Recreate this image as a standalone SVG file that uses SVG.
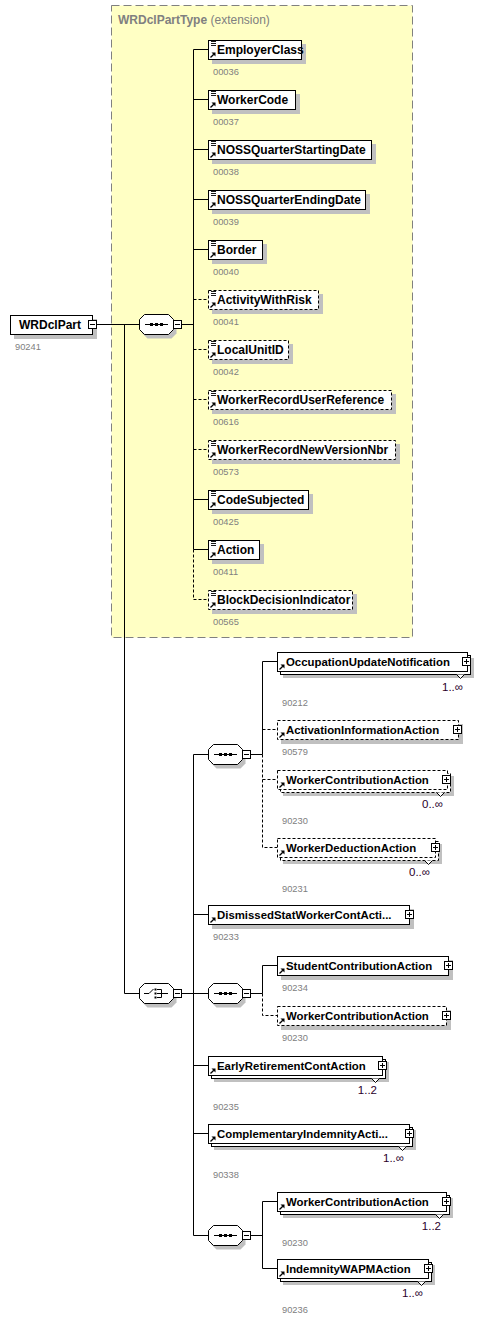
<svg xmlns="http://www.w3.org/2000/svg" xmlns:xlink="http://www.w3.org/1999/xlink" width="504" height="1327" viewBox="0 0 504 1327">
<style>
.box{fill:#fff;stroke:#000;stroke-width:1}
.opt{stroke-dasharray:3,2}
.sh{fill:#c0c0c0;stroke:none}
.name{font-family:"Liberation Sans",Arial,sans-serif;font-weight:bold;font-size:12px;fill:#000}
.sm{font-size:11.4px}
.id{font-family:"Liberation Sans",Arial,sans-serif;font-size:9.3px;fill:#808080}
.mult{font-family:"Liberation Sans",Arial,sans-serif;font-size:11.5px;fill:#2a002a}
.ttl{font-family:"Liberation Sans",Arial,sans-serif;font-size:12px;fill:#808080}
.ln{stroke:#000;stroke-width:1;fill:none}
.dl{stroke:#000;stroke-width:1;fill:none;stroke-dasharray:3,2}
</style>
<defs>
<g id="ico-s"><path d="M0,1.5h5M0,3.5h5M0,5.5h5" stroke="#000" stroke-width="0.9"/></g>
<g id="ico-r"><path d="M0.5,5.5L3.8,2.2" stroke="#000" stroke-width="1.3"/><path d="M1.5,0.5H5.5V4.5Z" fill="#000"/></g>
<g id="btn-m"><rect x="0.5" y="0.5" width="8" height="8" fill="#fff" stroke="#000"/><path d="M2,4.5h5" stroke="#000"/></g>
<g id="btn-p"><rect x="0.5" y="0.5" width="8" height="8" fill="#fff" stroke="#000"/><path d="M2,4.5h5M4.5,2v5" stroke="#000"/></g>
<path id="oct" d="M5.5,0.5H29.5L34.5,5.5V15.5L29.5,20.5H5.5L0.5,15.5V5.5Z"/>
<g id="seqc">
<use xlink:href="#oct" href="#oct" class="sh" transform="translate(3,4)"/>
<use xlink:href="#oct" href="#oct" class="box"/>
<path d="M6,10.5H29" stroke="#000"/>
<rect x="11" y="9" width="3" height="3"/><rect x="16" y="9" width="3" height="3"/><rect x="21" y="9" width="3" height="3"/>
<use xlink:href="#btn-m" href="#btn-m" x="34" y="6"/>
</g>
<g id="chcc">
<use xlink:href="#oct" href="#oct" class="sh" transform="translate(3,4)"/>
<use xlink:href="#oct" href="#oct" class="box"/>
<path d="M5,10.5H10L14.5,6" stroke="#000" fill="none"/>
<rect x="15.5" y="5.5" width="2" height="2"/><rect x="15.5" y="9.5" width="2" height="2"/><rect x="15.5" y="13.5" width="2" height="2"/>
<path d="M18,6.5H22.5V14.5H18M18,10.5H29" stroke="#000" fill="none"/>
<use xlink:href="#btn-m" href="#btn-m" x="34" y="6"/>
</g>
</defs>

<g id="ext-WRDclPartType">
<rect x="111.5" y="5.5" width="301" height="632" fill="#ffffc4" stroke="#808080" stroke-dasharray="8,4"/>
<text class="ttl" x="118" y="24"><tspan font-weight="bold">WRDclPartType</tspan> (extension)</text>
</g>

<g id="connectors">
<path class="ln" d="M97,324.5H139M124.5,324.5V993.5H139M182,324.5H193.5M193.5,49.5V549.5"/>
<path class="ln" d="M193.5,49.5H208M193.5,99.5H208M193.5,149.5H208M193.5,199.5H208M193.5,249.5H208M193.5,499.5H208M193.5,549.5H208"/>
<path class="dl" d="M193.5,299.5H208M193.5,349.5H208M193.5,399.5H208M193.5,449.5H208M193.5,549.5V599.5H208"/>
<path class="ln" d="M182,993.5H193.5M193.5,754.5V1235.5M193.5,754.5H208M193.5,914.5H208M193.5,993.5H208M193.5,1065.5H208M193.5,1133.5H208M193.5,1235.5H208"/>
<path class="ln" d="M251,754.5H262.5M262.5,661.5V754.5M262.5,661.5H277"/>
<path class="dl" d="M262.5,754.5V847.5H277M262.5,729.5H277M262.5,779.5H277"/>
<path class="ln" d="M251,993.5H262.5M262.5,965.5V993.5M262.5,965.5H277"/>
<path class="dl" d="M262.5,993.5V1015.5H277"/>
<path class="ln" d="M251,1235.5H262.5M262.5,1201.5V1268.5M262.5,1201.5H277M262.5,1268.5H277"/>
</g>

<g id="n-WRDclPart">
<rect class="sh" x="14" y="319" width="83" height="20"/>
<rect class="box" x="10.5" y="315.5" width="82" height="19"/>
<text class="name" x="19" y="329" font-size="12.5px">WRDclPart</text>
<use xlink:href="#btn-m" href="#btn-m" x="88" y="320"/>
<text class="id" x="15" y="350">90241</text>
</g>

<g id="c-seq0" transform="translate(139,314)"><use xlink:href="#seqc" href="#seqc"/></g>

<g id="n-EmployerClass">
<rect class="sh" x="212" y="44" width="94" height="20"/>
<rect class="box" x="208.5" y="40.5" width="93" height="19"/>
<use href="#ico-s" xlink:href="#ico-s" x="211" y="40"/><use href="#ico-r" xlink:href="#ico-r" x="210" y="52"/>
<text class="name" x="217" y="54">EmployerClass</text>
<text class="id" x="213" y="75">00036</text>
</g>
<g id="n-WorkerCode">
<rect class="sh" x="212" y="94" width="88" height="20"/>
<rect class="box" x="208.5" y="90.5" width="87" height="19"/>
<use href="#ico-s" xlink:href="#ico-s" x="211" y="90"/><use href="#ico-r" xlink:href="#ico-r" x="210" y="102"/>
<text class="name" x="217" y="104">WorkerCode</text>
<text class="id" x="213" y="125">00037</text>
</g>
<g id="n-NOSSQuarterStartingDate">
<rect class="sh" x="212" y="144" width="164" height="20"/>
<rect class="box" x="208.5" y="140.5" width="163" height="19"/>
<use href="#ico-s" xlink:href="#ico-s" x="211" y="140"/><use href="#ico-r" xlink:href="#ico-r" x="210" y="152"/>
<text class="name" x="217" y="154">NOSSQuarterStartingDate</text>
<text class="id" x="213" y="175">00038</text>
</g>
<g id="n-NOSSQuarterEndingDate">
<rect class="sh" x="212" y="194" width="158" height="20"/>
<rect class="box" x="208.5" y="190.5" width="157" height="19"/>
<use href="#ico-s" xlink:href="#ico-s" x="211" y="190"/><use href="#ico-r" xlink:href="#ico-r" x="210" y="202"/>
<text class="name" x="217" y="204">NOSSQuarterEndingDate</text>
<text class="id" x="213" y="225">00039</text>
</g>
<g id="n-Border">
<rect class="sh" x="212" y="244" width="55" height="20"/>
<rect class="box" x="208.5" y="240.5" width="54" height="19"/>
<use href="#ico-s" xlink:href="#ico-s" x="211" y="240"/><use href="#ico-r" xlink:href="#ico-r" x="210" y="252"/>
<text class="name" x="217" y="254">Border</text>
<text class="id" x="213" y="275">00040</text>
</g>
<g id="n-ActivityWithRisk">
<rect class="sh" x="212" y="294" width="111" height="20"/>
<rect class="box opt" x="208.5" y="290.5" width="110" height="19"/>
<use href="#ico-s" xlink:href="#ico-s" x="211" y="290"/><use href="#ico-r" xlink:href="#ico-r" x="210" y="302"/>
<text class="name" x="217" y="304">ActivityWithRisk</text>
<text class="id" x="213" y="325">00041</text>
</g>
<g id="n-LocalUnitID">
<rect class="sh" x="212" y="344" width="81" height="20"/>
<rect class="box opt" x="208.5" y="340.5" width="80" height="19"/>
<use href="#ico-s" xlink:href="#ico-s" x="211" y="340"/><use href="#ico-r" xlink:href="#ico-r" x="210" y="352"/>
<text class="name" x="217" y="354">LocalUnitID</text>
<text class="id" x="213" y="375">00042</text>
</g>
<g id="n-WorkerRecordUserReference">
<rect class="sh" x="212" y="394" width="184" height="20"/>
<rect class="box opt" x="208.5" y="390.5" width="183" height="19"/>
<use href="#ico-s" xlink:href="#ico-s" x="211" y="390"/><use href="#ico-r" xlink:href="#ico-r" x="210" y="402"/>
<text class="name" x="217" y="404">WorkerRecordUserReference</text>
<text class="id" x="213" y="425">00616</text>
</g>
<g id="n-WorkerRecordNewVersionNbr">
<rect class="sh" x="212" y="444" width="188" height="20"/>
<rect class="box opt" x="208.5" y="440.5" width="187" height="19"/>
<use href="#ico-s" xlink:href="#ico-s" x="211" y="440"/><use href="#ico-r" xlink:href="#ico-r" x="210" y="452"/>
<text class="name" x="217" y="454">WorkerRecordNewVersionNbr</text>
<text class="id" x="213" y="475">00573</text>
</g>
<g id="n-CodeSubjected">
<rect class="sh" x="212" y="494" width="101" height="20"/>
<rect class="box" x="208.5" y="490.5" width="100" height="19"/>
<use href="#ico-s" xlink:href="#ico-s" x="211" y="490"/><use href="#ico-r" xlink:href="#ico-r" x="210" y="502"/>
<text class="name" x="217" y="504">CodeSubjected</text>
<text class="id" x="213" y="525">00425</text>
</g>
<g id="n-Action">
<rect class="sh" x="212" y="544" width="52" height="20"/>
<rect class="box" x="208.5" y="540.5" width="51" height="19"/>
<use href="#ico-s" xlink:href="#ico-s" x="211" y="540"/><use href="#ico-r" xlink:href="#ico-r" x="210" y="552"/>
<text class="name" x="217" y="554">Action</text>
<text class="id" x="213" y="575">00411</text>
</g>
<g id="n-BlockDecisionIndicator">
<rect class="sh" x="212" y="594" width="145" height="20"/>
<rect class="box opt" x="208.5" y="590.5" width="144" height="19"/>
<use href="#ico-s" xlink:href="#ico-s" x="211" y="590"/><use href="#ico-r" xlink:href="#ico-r" x="210" y="602"/>
<text class="name" x="217" y="604">BlockDecisionIndicator</text>
<text class="id" x="213" y="625">00565</text>
</g>

<g id="c-choice" transform="translate(139,983)"><use xlink:href="#chcc" href="#chcc"/></g>
<g id="c-seq1" transform="translate(208,744)"><use xlink:href="#seqc" href="#seqc"/></g>
<g id="c-seq2" transform="translate(208,983)"><use xlink:href="#seqc" href="#seqc"/></g>
<g id="c-seq3" transform="translate(208,1225)"><use xlink:href="#seqc" href="#seqc"/></g>

<g id="n-OccupationUpdateNotification">
<rect class="sh" x="283" y="658" width="191" height="20"/>
<rect class="box" x="280.5" y="655.5" width="190" height="19"/>
<path class="box" d="M456.5,674.5L460.5,678.5L464.5,674.5"/>
<rect class="box" x="277.5" y="652.5" width="190" height="19"/>
<use href="#ico-r" xlink:href="#ico-r" x="279" y="664"/>
<text class="name sm" x="286" y="666">OccupationUpdateNotification</text>
<use href="#btn-p" xlink:href="#btn-p" x="462" y="657"/>
<text class="mult" x="463" y="691" text-anchor="end">1..∞</text>
<text class="id" x="282" y="706">90212</text>
</g>
<g id="n-ActivationInformationAction">
<rect class="sh" x="281" y="724" width="182" height="20"/>
<rect class="box opt" x="277.5" y="720.5" width="181" height="19"/>
<use href="#ico-r" xlink:href="#ico-r" x="279" y="732"/>
<text class="name sm" x="286" y="734">ActivationInformationAction</text>
<use href="#btn-p" xlink:href="#btn-p" x="453" y="725"/>
<text class="id" x="282" y="755">90579</text>
</g>
<g id="n-WorkerContributionAction-1">
<rect class="sh" x="283" y="776" width="171" height="20"/>
<rect class="box opt" x="280.5" y="773.5" width="170" height="19"/>
<path class="box" d="M436.5,792.5L440.5,796.5L444.5,792.5"/>
<rect class="box opt" x="277.5" y="770.5" width="170" height="19"/>
<use href="#ico-r" xlink:href="#ico-r" x="279" y="782"/>
<text class="name sm" x="286" y="784">WorkerContributionAction</text>
<use href="#btn-p" xlink:href="#btn-p" x="442" y="775"/>
<text class="mult" x="443" y="808" text-anchor="end">0..∞</text>
<text class="id" x="282" y="824">90230</text>
</g>
<g id="n-WorkerDeductionAction">
<rect class="sh" x="283" y="844" width="159" height="20"/>
<rect class="box opt" x="280.5" y="841.5" width="158" height="19"/>
<path class="box" d="M424.5,860.5L428.5,864.5L432.5,860.5"/>
<rect class="box opt" x="277.5" y="838.5" width="158" height="19"/>
<use href="#ico-r" xlink:href="#ico-r" x="279" y="850"/>
<text class="name sm" x="286" y="852">WorkerDeductionAction</text>
<use href="#btn-p" xlink:href="#btn-p" x="431" y="843"/>
<text class="mult" x="430" y="876" text-anchor="end">0..∞</text>
<text class="id" x="282" y="892">90231</text>
</g>
<g id="n-DismissedStatWorkerContAction">
<rect class="sh" x="212" y="909" width="202" height="20"/>
<rect class="box" x="208.5" y="905.5" width="201" height="19"/>
<use href="#ico-r" xlink:href="#ico-r" x="210" y="917"/>
<text class="name sm" x="217" y="919">DismissedStatWorkerContActi...</text>
<use href="#btn-p" xlink:href="#btn-p" x="405" y="910"/>
<text class="id" x="213" y="940">90233</text>
</g>
<g id="n-StudentContributionAction">
<rect class="sh" x="281" y="960" width="172" height="20"/>
<rect class="box" x="277.5" y="956.5" width="171" height="19"/>
<use href="#ico-r" xlink:href="#ico-r" x="279" y="968"/>
<text class="name sm" x="286" y="970">StudentContributionAction</text>
<use href="#btn-p" xlink:href="#btn-p" x="444" y="961"/>
<text class="id" x="282" y="991">90234</text>
</g>
<g id="n-WorkerContributionAction-2">
<rect class="sh" x="281" y="1010" width="170" height="20"/>
<rect class="box opt" x="277.5" y="1006.5" width="169" height="19"/>
<use href="#ico-r" xlink:href="#ico-r" x="279" y="1018"/>
<text class="name sm" x="286" y="1020">WorkerContributionAction</text>
<use href="#btn-p" xlink:href="#btn-p" x="442" y="1011"/>
<text class="id" x="282" y="1041">90230</text>
</g>
<g id="n-EarlyRetirementContAction">
<rect class="sh" x="214" y="1062" width="175" height="20"/>
<rect class="box" x="211.5" y="1059.5" width="174" height="19"/>
<path class="box" d="M371.5,1078.5L375.5,1082.5L379.5,1078.5"/>
<rect class="box" x="208.5" y="1056.5" width="174" height="19"/>
<use href="#ico-r" xlink:href="#ico-r" x="210" y="1068"/>
<text class="name sm" x="217" y="1070">EarlyRetirementContAction</text>
<use href="#btn-p" xlink:href="#btn-p" x="378" y="1061"/>
<text class="mult" x="377" y="1094" text-anchor="end">1..2</text>
<text class="id" x="213" y="1110">90235</text>
</g>
<g id="n-ComplementaryIndemnityAction">
<rect class="sh" x="214" y="1130" width="202" height="20"/>
<rect class="box" x="211.5" y="1127.5" width="201" height="19"/>
<path class="box" d="M398.5,1146.5L402.5,1150.5L406.5,1146.5"/>
<rect class="box" x="208.5" y="1124.5" width="201" height="19"/>
<use href="#ico-r" xlink:href="#ico-r" x="210" y="1136"/>
<text class="name sm" x="217" y="1138">ComplementaryIndemnityActi...</text>
<use href="#btn-p" xlink:href="#btn-p" x="405" y="1129"/>
<text class="mult" x="404" y="1162" text-anchor="end">1..∞</text>
<text class="id" x="213" y="1178">90338</text>
</g>
<g id="n-WorkerContributionAction-3">
<rect class="sh" x="283" y="1198" width="170" height="20"/>
<rect class="box" x="280.5" y="1195.5" width="169" height="19"/>
<path class="box" d="M435.5,1214.5L439.5,1218.5L443.5,1214.5"/>
<rect class="box" x="277.5" y="1192.5" width="169" height="19"/>
<use href="#ico-r" xlink:href="#ico-r" x="279" y="1204"/>
<text class="name sm" x="286" y="1206">WorkerContributionAction</text>
<use href="#btn-p" xlink:href="#btn-p" x="442" y="1197"/>
<text class="mult" x="441" y="1230" text-anchor="end">1..2</text>
<text class="id" x="282" y="1246">90230</text>
</g>
<g id="n-IndemnityWAPMAction">
<rect class="sh" x="283" y="1265" width="152" height="20"/>
<rect class="box" x="280.5" y="1262.5" width="151" height="19"/>
<path class="box" d="M417.5,1281.5L421.5,1285.5L425.5,1281.5"/>
<rect class="box" x="277.5" y="1259.5" width="151" height="19"/>
<use href="#ico-r" xlink:href="#ico-r" x="279" y="1271"/>
<text class="name sm" x="286" y="1273">IndemnityWAPMAction</text>
<use href="#btn-p" xlink:href="#btn-p" x="424" y="1264"/>
<text class="mult" x="423" y="1297" text-anchor="end">1..∞</text>
<text class="id" x="282" y="1313">90236</text>
</g>
</svg>
